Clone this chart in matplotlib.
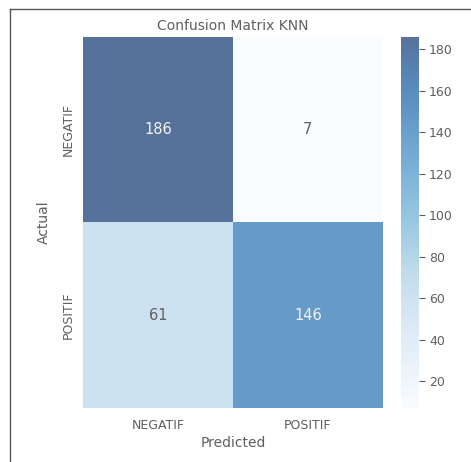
import matplotlib
matplotlib.use("Agg")
from matplotlib import pyplot as plt
from matplotlib.lines import Line2D
import numpy as np
import seaborn as sns

labels = ["NEGATIF", "POSITIF"]
cm = np.array([[186, 7],
               [61, 146]])
cbar_ticks = [20, 40, 60, 80, 100, 120, 140, 160, 180]

text_color = "#5f5f5f"
plt.rcParams["font.family"] = "DejaVu Sans"

fig = plt.figure(figsize=(4.71, 4.62), dpi=100)
ax = fig.add_axes([0.176, 0.117, 0.637, 0.803])
cax = fig.add_axes([0.851, 0.117, 0.038, 0.803])

sns.heatmap(cm, annot=True, fmt="d", cmap="Blues", alpha=0.68, ax=ax, cbar_ax=cax,
            xticklabels=labels, yticklabels=labels,
            annot_kws={"fontsize": 10.5})

# mute annotation colours the way the screenshot does
for t, v in zip(ax.texts, cm.flatten()):
    t.set_color("#f2f2f2" if v > 100 else text_color)

ax.set_title("Confusion Matrix KNN", fontsize=10, color=text_color, pad=5)
ax.set_xlabel("Predicted", fontsize=10, color=text_color, labelpad=3)
ax.set_ylabel("Actual", fontsize=10, color=text_color, labelpad=8)
ax.tick_params(axis="both", length=0, labelsize=9, colors=text_color)
ax.tick_params(axis="x", pad=8)
ax.tick_params(axis="y", pad=6)

cax.set_yticks(cbar_ticks)
cax.tick_params(labelsize=9, colors=text_color, length=4)
for s in cax.spines.values():
    s.set_visible(False)

# screenshot frame
fig.add_artist(Line2D([0.021, 0.021], [0.0, 0.981], color="#555555", lw=1))
fig.add_artist(Line2D([0.021, 1.0], [0.981, 0.981], color="#555555", lw=1))

plt.savefig("out.png", dpi=100)
